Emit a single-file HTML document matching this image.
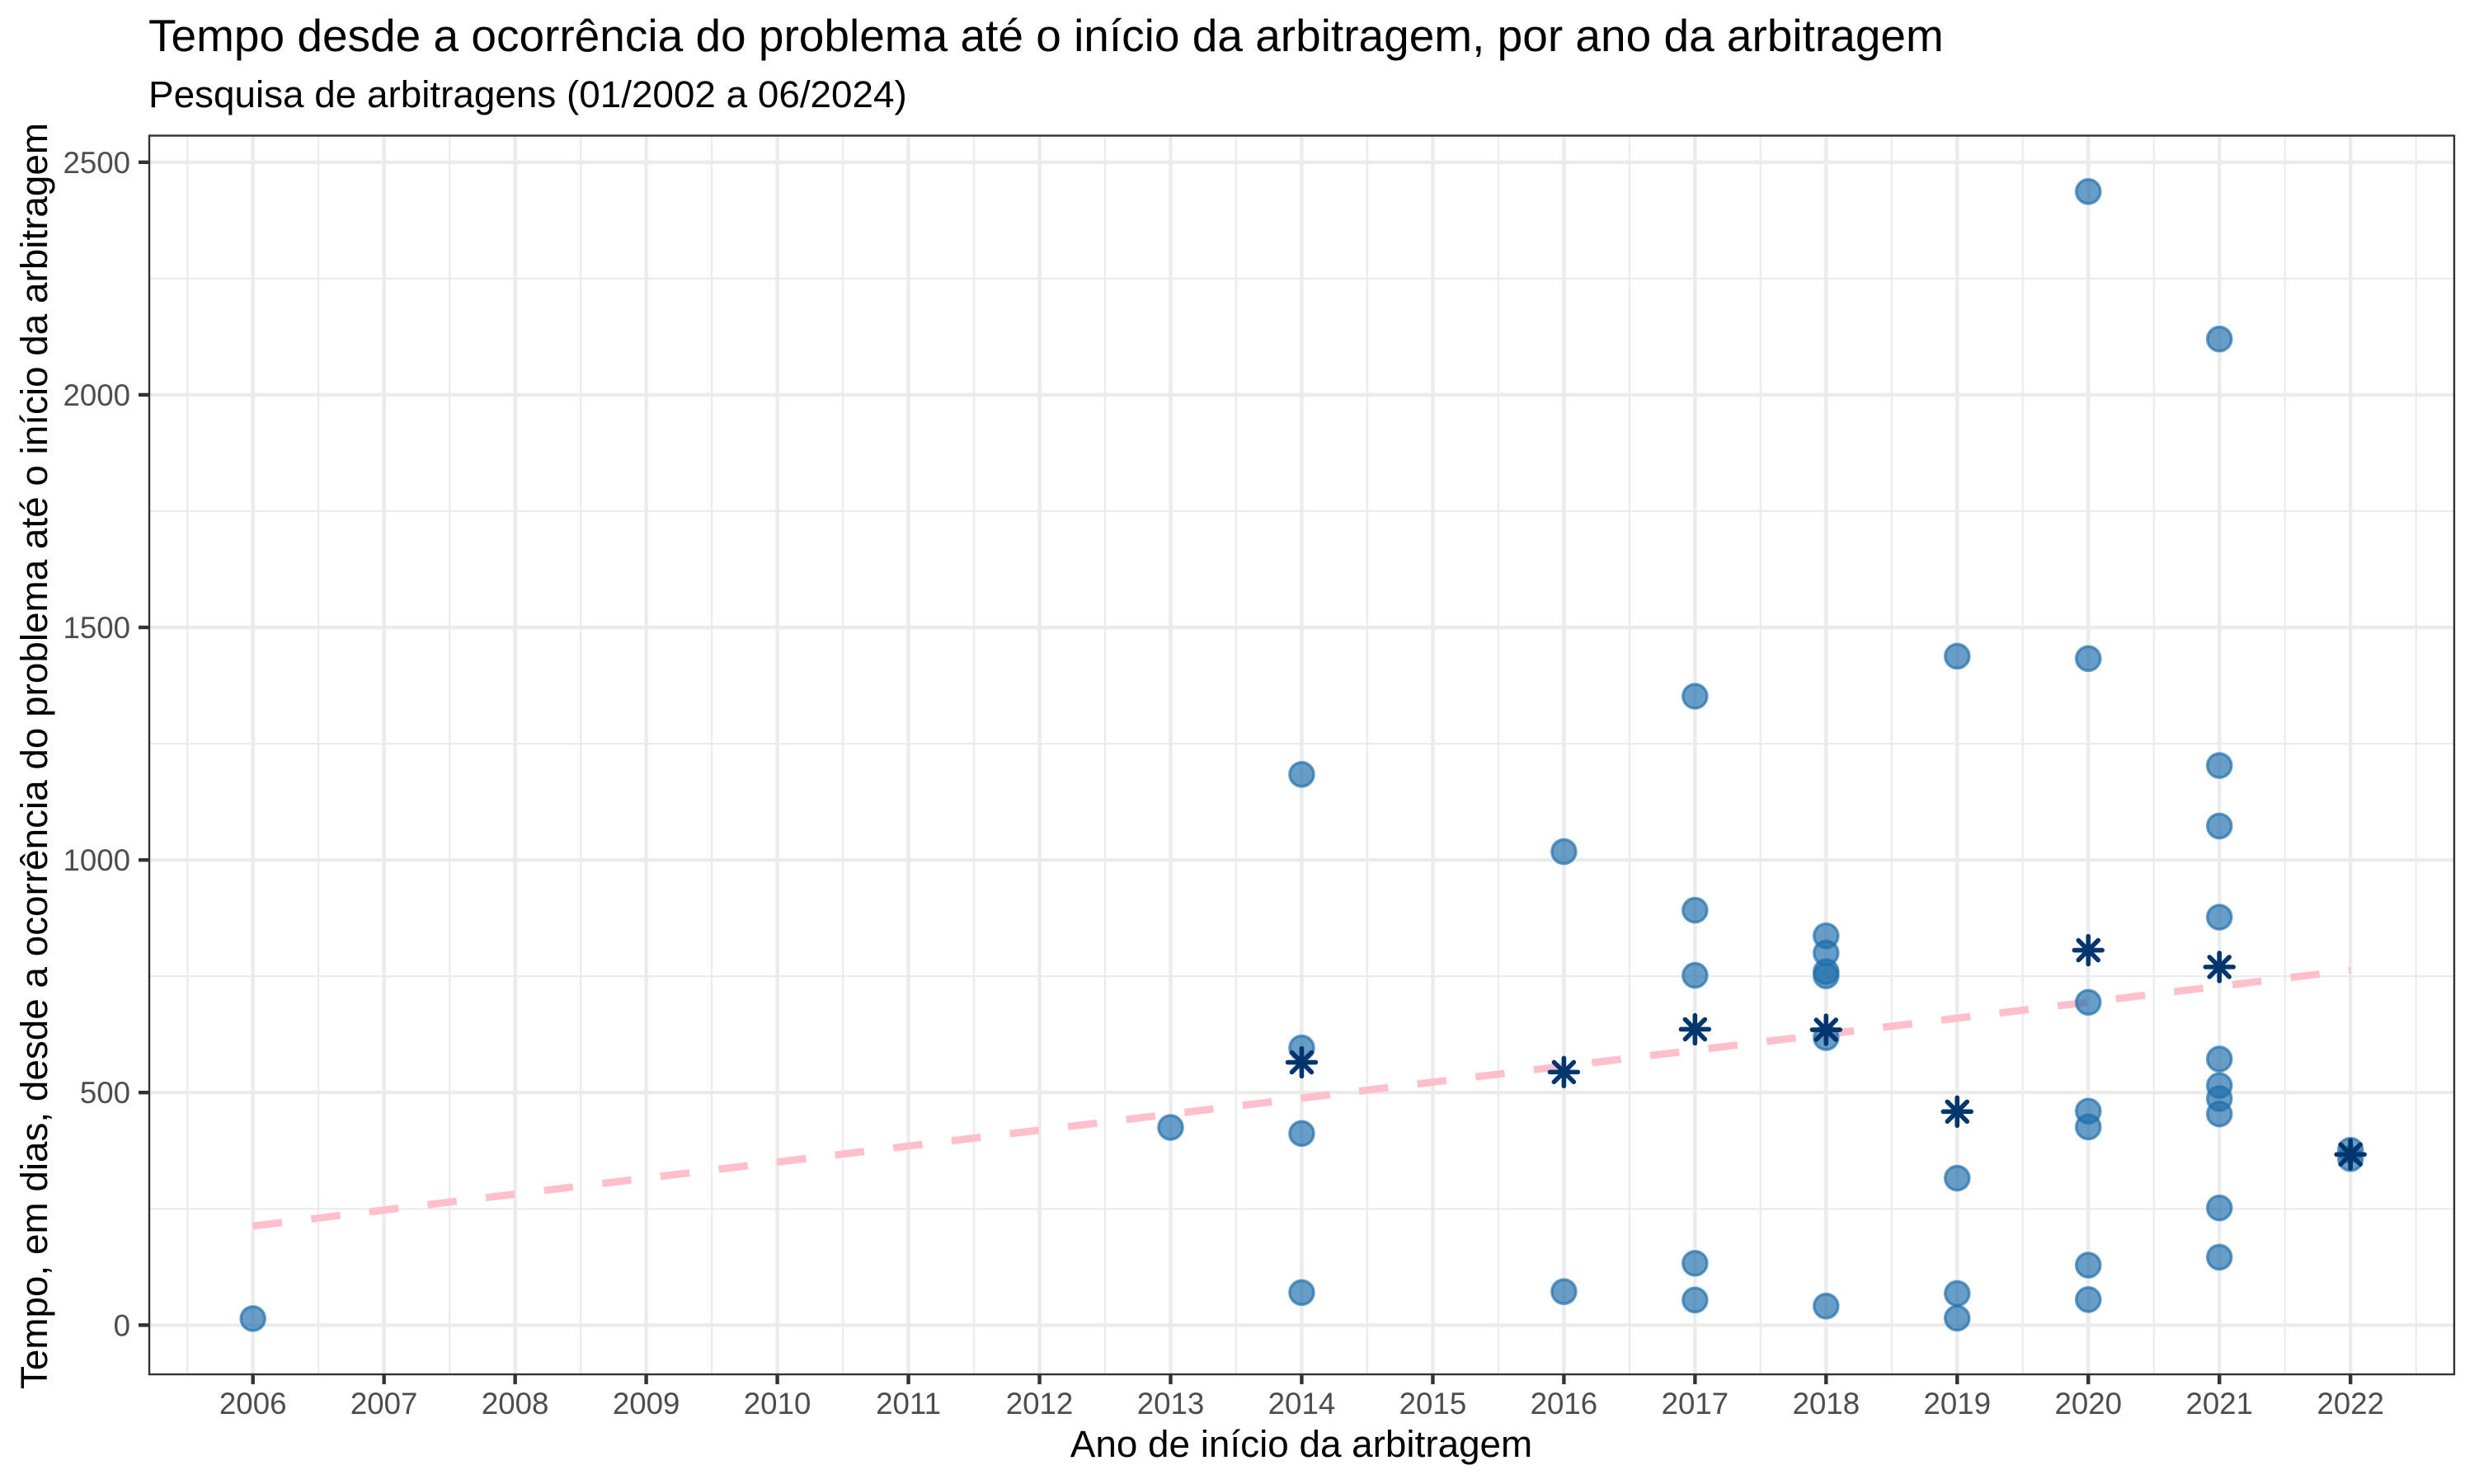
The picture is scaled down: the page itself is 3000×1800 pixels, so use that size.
<!DOCTYPE html>
<html lang="pt">
<head>
<meta charset="utf-8">
<title>Tempo até o início da arbitragem</title>
<style>
html,body{margin:0;padding:0;background:#fff;}
svg{display:block;}
text{font-family:"Liberation Sans",Arial,sans-serif;}
</style>
</head>
<body>
<svg id="chart" xmlns="http://www.w3.org/2000/svg" width="3000" height="1800" viewBox="0 0 3000 1800">
  <rect x="0" y="0" width="3000" height="1800" fill="#ffffff"/>
  <g id="grid-minor"></g>
  <g id="grid-major"></g>
  <path id="trend" fill="none" stroke="#FFC0CB" stroke-width="8.9" stroke-dasharray="35.56 35.56" stroke-linecap="butt"></path>
  <g id="points"></g>
  <g id="means"></g>
  <rect x="181" y="164.5" width="2795" height="1502.5" fill="none" stroke="#333333" stroke-width="2.4"/>
  <g id="ticks"></g>
  <g id="x-labels"></g>
  <g id="y-labels"></g>
  <text x="180" y="62" font-size="55" fill="#000000">Tempo desde a ocorrência do problema até o início da arbitragem, por ano da arbitragem</text>
  <text x="180" y="130" font-size="45.83" fill="#000000">Pesquisa de arbitragens (01/2002 a 06/2024)</text>
  <text x="1578" y="1767" font-size="45.83" text-anchor="middle" fill="#000000">Ano de início da arbitragem</text>
  <text transform="translate(57 917) rotate(-90)" x="0" y="0" font-size="45.83" text-anchor="middle" fill="#000000">Tempo, em dias, desde a ocorrência do problema até o início da arbitragem</text>
</svg>
<script>
const xTickLabels = [2006, 2007, 2008, 2009, 2010, 2011, 2012, 2013, 2014, 2015, 2016, 2017, 2018, 2019, 2020, 2021, 2022];
const yTickLabels = [0, 500, 1000, 1500, 2000, 2500];
const pointYears = [2006, 2013,
  2014, 2014, 2014, 2014,
  2016, 2016,
  2017, 2017, 2017, 2017, 2017,
  2018, 2018, 2018, 2018, 2018, 2018,
  2019, 2019, 2019, 2019,
  2020, 2020, 2020, 2020, 2020, 2020, 2020,
  2021, 2021, 2021, 2021, 2021, 2021, 2021, 2021, 2021, 2021,
  2022, 2022];
const pointDays = [14, 425,
  1184, 596, 412, 70,
  1018, 72,
  1352, 892, 752, 133, 54,
  837, 800, 760, 751, 618, 41,
  1438, 316, 68, 15,
  2437, 1433, 694, 460, 426, 129, 55,
  2120, 1203, 1073, 877, 572, 515, 487, 454, 252, 146,
  376, 358];
const meanYears = [2014, 2016, 2017, 2018, 2019, 2020, 2021, 2022];
const meanDays = [565, 544, 636, 635, 459, 806, 770, 367];
const trendYears = [2006, 2022];
const trendDays = [213, 763];

const SVG_NS = 'http://www.w3.org/2000/svg';
const panel = {left: 180, right: 2976, top: 164, bottom: 1667};
const xScale = function (v) { return 306.7 + (v - 2006) * 158.97; };
const yScale = function (v) { return 1607.3 - v * 0.5642; };

function make(tag, parentId, attrs) {
  const el = document.createElementNS(SVG_NS, tag);
  for (const k in attrs) el.setAttribute(k, attrs[k]);
  document.getElementById(parentId).appendChild(el);
  return el;
}

/* minor gridlines */
const xStep = xTickLabels[1] - xTickLabels[0];
const yStep = yTickLabels[1] - yTickLabels[0];
for (let i = -1; i < xTickLabels.length; i++) {
  const v = xTickLabels[0] + (i + 0.5) * xStep;
  const el = make('line', 'grid-minor', {x1: xScale(v), x2: xScale(v), y1: panel.top, y2: panel.bottom, stroke: '#EBEBEB', 'stroke-width': 2.2});
  
  
}
for (let i = 0; i < yTickLabels.length - 1; i++) {
  const v = yTickLabels[i] + yStep / 2;
  const el = make('line', 'grid-minor', {x1: panel.left, x2: panel.right, y1: yScale(v), y2: yScale(v), stroke: '#EBEBEB', 'stroke-width': 2.2});
  
  
}

/* major gridlines, ticks and labels: x */
xTickLabels.forEach(function (v) {
  const x = xScale(v);
  const grid = make('line', 'grid-major', {x1: x, x2: x, y1: panel.top, y2: panel.bottom, stroke: '#EBEBEB', 'stroke-width': 4.4});
  
  
  const tick = make('line', 'ticks', {x1: x, x2: x, y1: panel.bottom, y2: panel.bottom + 12, stroke: '#333333', 'stroke-width': 4.4});
  
  
  const label = make('text', 'x-labels', {x: x, y: 1715, 'font-size': 36.67, 'text-anchor': 'middle', fill: '#4D4D4D'});
  
  
  label.textContent = String(v);
});

/* major gridlines, ticks and labels: y */
yTickLabels.forEach(function (v) {
  const y = yScale(v);
  const grid = make('line', 'grid-major', {x1: panel.left, x2: panel.right, y1: y, y2: y, stroke: '#EBEBEB', 'stroke-width': 4.4});
  
  
  const tick = make('line', 'ticks', {x1: panel.left - 12, x2: panel.left, y1: y, y2: y, stroke: '#333333', 'stroke-width': 4.4});
  
  
  const label = make('text', 'y-labels', {x: 158, y: y + 13, 'font-size': 36.67, 'text-anchor': 'end', fill: '#4D4D4D'});
  
  
  label.textContent = String(v);
});

/* trend line */
document.getElementById('trend').setAttribute('d',
  'M' + trendYears.map(function (yr, i) { return xScale(yr) + ' ' + yScale(trendDays[i]); }).join(' L'));

/* circles */
pointYears.forEach(function (yr, i) {
  const c = make('circle', 'points', {cx: xScale(yr), cy: yScale(pointDays[i]), r: 14.6, fill: '#1F6FAB', 'fill-opacity': 0.68, stroke: '#1F6FAB', 'stroke-opacity': 0.68, 'stroke-width': 3.4});
  
  
});

/* asterisks drawn as a plus and a cross */
meanYears.forEach(function (yr, i) {
  const cx = xScale(yr), cy = yScale(meanDays[i]);
  const r = 16.9, d = r * Math.SQRT1_2;
  const path = 'M' + (cx - r) + ' ' + cy + 'L' + (cx + r) + ' ' + cy +
    'M' + cx + ' ' + (cy - r) + 'L' + cx + ' ' + (cy + r) +
    'M' + (cx - d) + ' ' + (cy - d) + 'L' + (cx + d) + ' ' + (cy + d) +
    'M' + (cx - d) + ' ' + (cy + d) + 'L' + (cx + d) + ' ' + (cy - d);
  const m = make('path', 'means', {d: path, fill: 'none', stroke: '#00356E', 'stroke-width': 5.6, 'stroke-linecap': 'round'});
  
  
});
</script>
</body>
</html>
